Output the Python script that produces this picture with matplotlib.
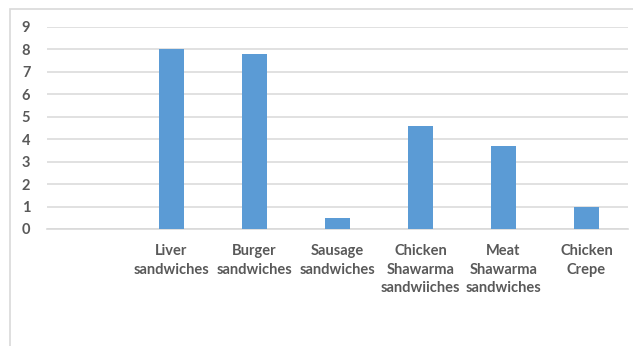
import matplotlib.pyplot as plt
from matplotlib.patches import Rectangle

# menu items and how many of each (first slot left empty)
items = ["", "Liver\nsandwiches", "Burger\nsandwiches", "Sausage\nsandwiches",
         "Chicken\nShawarma\nsandwiiches", "Meat\nShawarma\nsandwiches", "Chicken\nCrepe"]
counts = [0, 8, 7.8, 0.5, 4.6, 3.7, 1]

plt.rcParams['font.family'] = ['Lato', 'DejaVu Sans']
txt = "#595959"
grid = "#d9d9d9"

fig = plt.figure(figsize=(6.33, 3.46), dpi=100)
# chart frame
fig.patches.append(Rectangle((10 / 633, -0.1), 1.1, 1 - 9 / 346 + 0.1,
                             transform=fig.transFigure, fill=False,
                             edgecolor=grid, linewidth=1.2))
ax = fig.add_axes([47 / 633, 1 - 229 / 346, 581 / 633, 202 / 346])

x = range(len(items))
ax.bar(x, counts, width=0.31, color="#5b9bd5", zorder=3)

ax.set_xlim(-0.5, len(items) - 0.5)
ax.set_ylim(0, 9)
ax.set_yticks(range(10))
ax.set_xticks(list(x))
ax.set_xticklabels(items, linespacing=1.4, va="top")
ax.yaxis.grid(True, color=grid, linewidth=1.1, zorder=0)
for s in ["top", "right", "left"]:
    ax.spines[s].set_visible(False)
ax.spines["bottom"].set_color(grid)
ax.spines["bottom"].set_linewidth(1.2)
ax.tick_params(axis="both", length=0, colors=txt)
ax.tick_params(axis="x", pad=11, labelsize=10.5)
ax.tick_params(axis="y", pad=12, labelsize=10.5)
for lab in ax.get_yticklabels() + ax.get_xticklabels():
    lab.set_fontweight("bold")

fig.savefig("out.png", dpi=100)
